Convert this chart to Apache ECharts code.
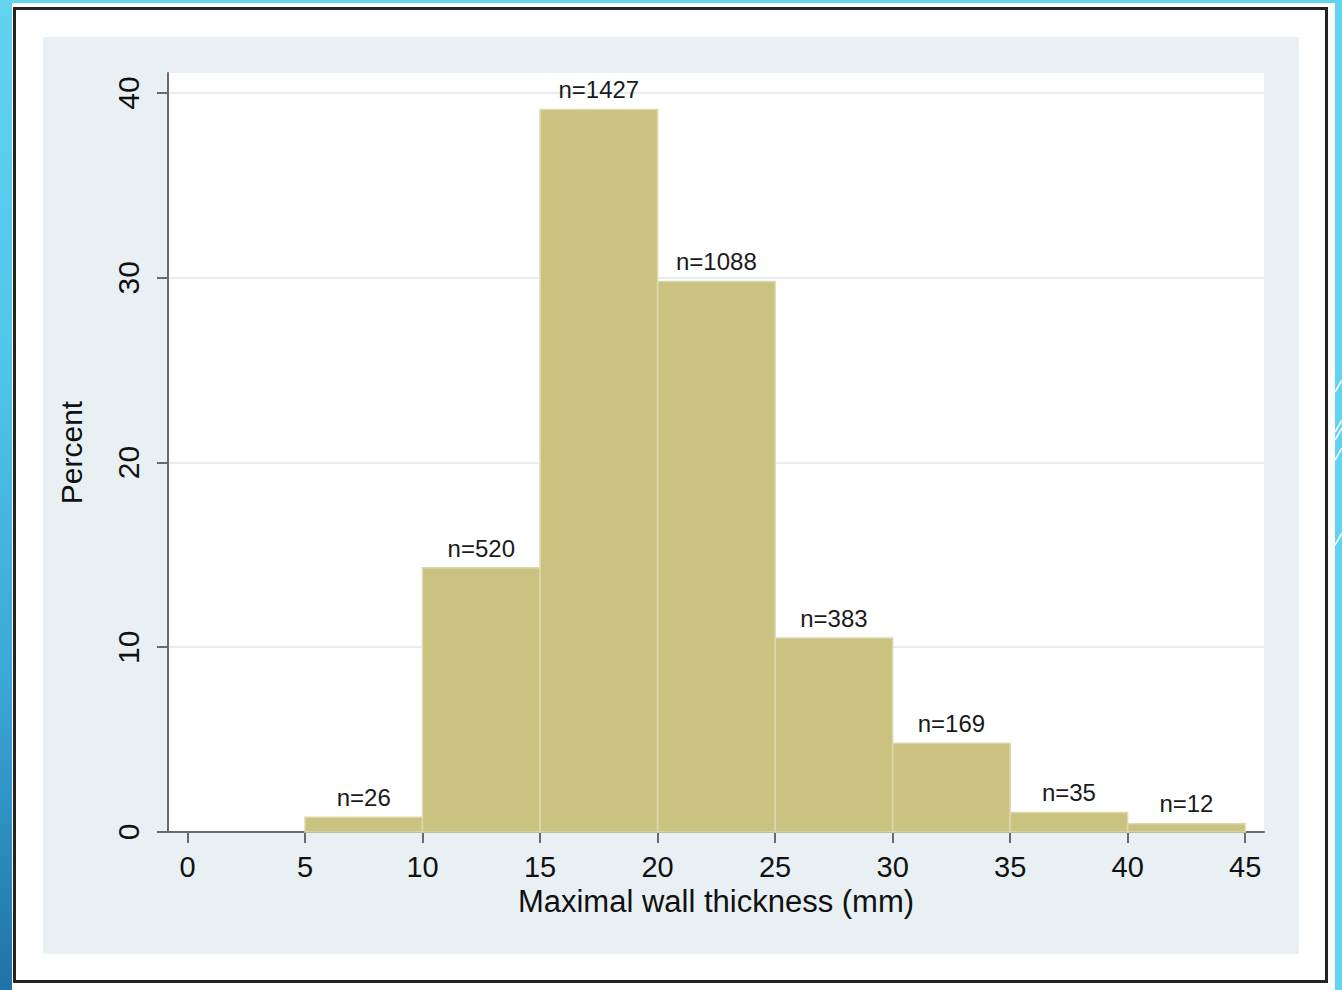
<!DOCTYPE html>
<html>
<head>
<meta charset="utf-8">
<script src="https://cdn.jsdelivr.net/npm/echarts@6/dist/echarts.min.js"></script>
<style>
  html, body { margin: 0; padding: 0; }
  body { width: 1342px; height: 990px; background: #62d3ef; position: relative; overflow: hidden; }
  #strip { position: absolute; left: 0; top: 0; width: 12px; height: 990px;
    background: linear-gradient(#62d3ef 0%, #52c6ea 35%, #3aa6d6 70%, #1f72a6 100%); }
  #sheet { position: absolute; left: 12px; top: 3px; width: 1323px; height: 987px; background: #fff; }
  #frame { position: absolute; left: 13px; top: 7px; width: 1309px; height: 970px;
    border: 3px solid #232323; background: #fff; }
  #deco { position: absolute; left: 1335px; top: 0; width: 7px; height: 990px; }
  #chart-container { position: absolute; left: 43px; top: 37px; width: 1256px; height: 917px; }
</style>
</head>
<body>
<div id="strip"></div>
<div id="sheet"></div>
<div id="frame"></div>
<svg id="deco" width="7" height="990">
  <line x1="0" y1="392" x2="7" y2="380" stroke="#fff" stroke-width="1.5"/>
  <line x1="0" y1="432" x2="7" y2="420" stroke="#fff" stroke-width="1.5"/>
  <line x1="0" y1="440" x2="7" y2="428" stroke="#fff" stroke-width="1.5"/>
  <line x1="0" y1="460" x2="7" y2="448" stroke="#fff" stroke-width="1.5"/>
  <line x1="0" y1="545" x2="7" y2="533" stroke="#fff" stroke-width="1.5"/>
</svg>
<div id="chart-container"></div>
<script>
// histogram bins (mm), percent per bin, and counts shown above bars
const binStart = [5, 10, 15, 20, 25, 30, 35, 40];
const binEnd = [10, 15, 20, 25, 30, 35, 40, 45];
const percent = [0.8, 14.3, 39.1, 29.8, 10.5, 4.8, 1.05, 0.45];
const counts = [26, 520, 1427, 1088, 383, 169, 35, 12];
const xTicks = [0, 5, 10, 15, 20, 25, 30, 35, 40, 45];
const yTicks = [0, 10, 20, 30, 40];

(function histogram() {
  var dom = document.getElementById("chart-container");
  var myChart = echarts.init(dom, null, { renderer: "svg" });

  var data = binStart.map(function (s, i) {
    return [s, binEnd[i], percent[i], counts[i]];
  });

  var axisGrey = "#6a6a6a";
  var font = "Liberation Sans, Arial, sans-serif";

  function renderItem(params, api) {
    var topLeft = api.coord([api.value(0), api.value(2)]);
    var bottomRight = api.coord([api.value(1), 0]);
    return {
      type: "rect",
      shape: {
        x: topLeft[0],
        y: topLeft[1],
        width: bottomRight[0] - topLeft[0],
        height: bottomRight[1] - topLeft[1],
      },
      style: { fill: "#c9c281", stroke: "#dcd8ac", lineWidth: 1.5 },
      textContent: {
        style: {
          text: "n=" + api.value(3),
          fontFamily: font,
          fontSize: 24,
          fill: "#1a1a1a",
        },
      },
      textConfig: { position: "top", distance: 7 },
    };
  }

  var option = {
    backgroundColor: "#e8f0f3",
    animation: false,
    grid: {
      left: 125,
      right: 35,
      top: 36,
      bottom: 122,
      show: true,
      backgroundColor: "#fff",
      borderWidth: 0,
    },
    xAxis: {
      type: "value",
      min: -0.83,
      max: 45.8,
      name: "Maximal wall thickness (mm)",
      nameLocation: "middle",
      nameGap: 54,
      nameTextStyle: { fontFamily: font, fontSize: 31, color: "#111" },
      axisLine: { show: true, onZero: false, lineStyle: { color: axisGrey, width: 2 } },
      axisTick: { show: true, length: 11, customValues: xTicks, lineStyle: { color: axisGrey, width: 2 } },
      axisLabel: { customValues: xTicks, margin: 20, fontFamily: font, fontSize: 29, color: "#111" },
      splitLine: { show: false },
    },
    yAxis: {
      type: "value",
      min: 0,
      max: 41.08,
      name: "Percent",
      nameLocation: "middle",
      nameGap: 82,
      nameTextStyle: { fontFamily: font, fontSize: 30, color: "#111" },
      axisLine: { show: true, onZero: false, lineStyle: { color: axisGrey, width: 2 } },
      axisTick: { show: true, length: 11, customValues: yTicks, lineStyle: { color: axisGrey, width: 2 } },
      axisLabel: { customValues: yTicks, rotate: 90, margin: 25, fontFamily: font, fontSize: 30, color: "#111" },
      splitLine: { show: true, lineStyle: { color: "#e6eef2", width: 2 } },
    },
    series: [
      {
        type: "custom",
        renderItem: renderItem,
        encode: { x: [0, 1], y: 2 },
        data: data,
      },
    ],
  };

  option && myChart.setOption(option);
})();
</script>
</body>
</html>
